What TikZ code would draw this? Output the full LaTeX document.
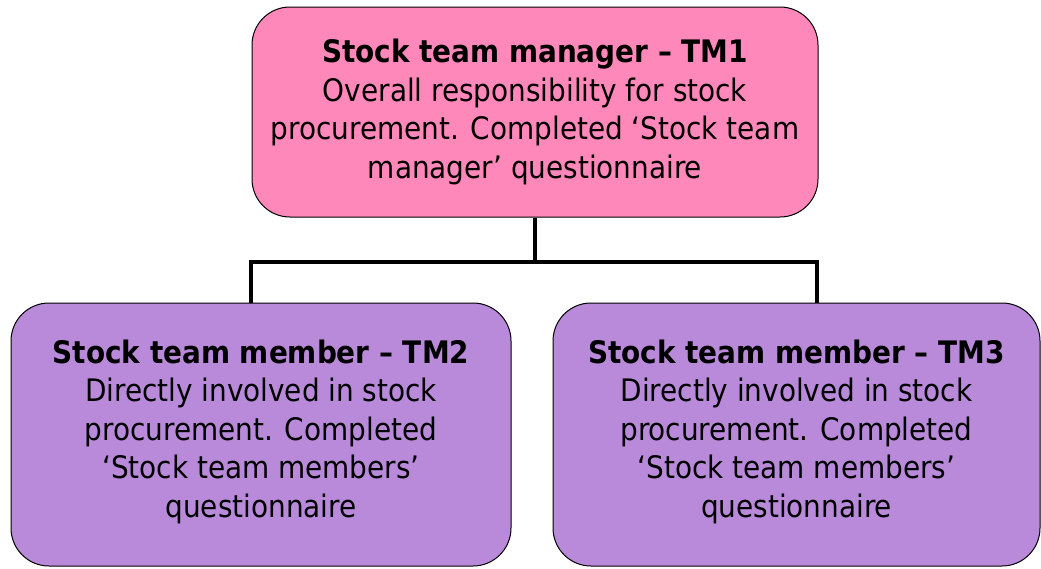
\documentclass[tikz,border=0pt]{standalone}
\usepackage{fontspec}
\setmainfont{DejaVu Sans Condensed}
\usepackage{xcolor}
\definecolor{tmpink}{RGB}{255,136,187}
\definecolor{tmpurple}{RGB}{184,138,217}
\tikzset{
  tmbox/.style={rounded corners=38pt, draw=black, line width=1pt, align=center, inner sep=0pt,
    font=\fontsize{31}{38.5}\selectfont},
  tmhead/.style={tmbox, fill=tmpink, minimum width=566pt, minimum height=210pt},
  tmmember/.style={tmbox, fill=tmpurple, minimum height=263pt},
  tmline/.style={line width=3.2pt, draw=black},
}

\begin{document}
\begin{tikzpicture}[x=1pt, y=-1pt]
\useasboundingbox (0,0) rectangle (1041,568);
\node[tmhead] (tm1) at (535,112) {\textbf{Stock team manager – TM1}\\Overall responsibility for stock\\procurement. Completed ‘Stock team\\manager’ questionnaire};
\node[tmmember, minimum width=500pt] (tm2) at (261,434.5) {\textbf{Stock team member – TM2}\\Directly involved in stock\\procurement. Completed\\‘Stock team members’\\questionnaire\\[-26pt]};
\node[tmmember, minimum width=487pt] (tm3) at (796.5,434.5) {\textbf{Stock team member – TM3}\\Directly involved in stock\\procurement. Completed\\‘Stock team members’\\questionnaire\\[-26pt]};
\coordinate (busL) at (251,262);
\coordinate (busR) at (817,262);
\draw[tmline] (tm1.south) -- (tm1.south |- busL);
\draw[tmline] (tm2.north -| busL) -- (busL) -- (busR) -- (tm3.north -| busR);
\end{tikzpicture}
\end{document}
